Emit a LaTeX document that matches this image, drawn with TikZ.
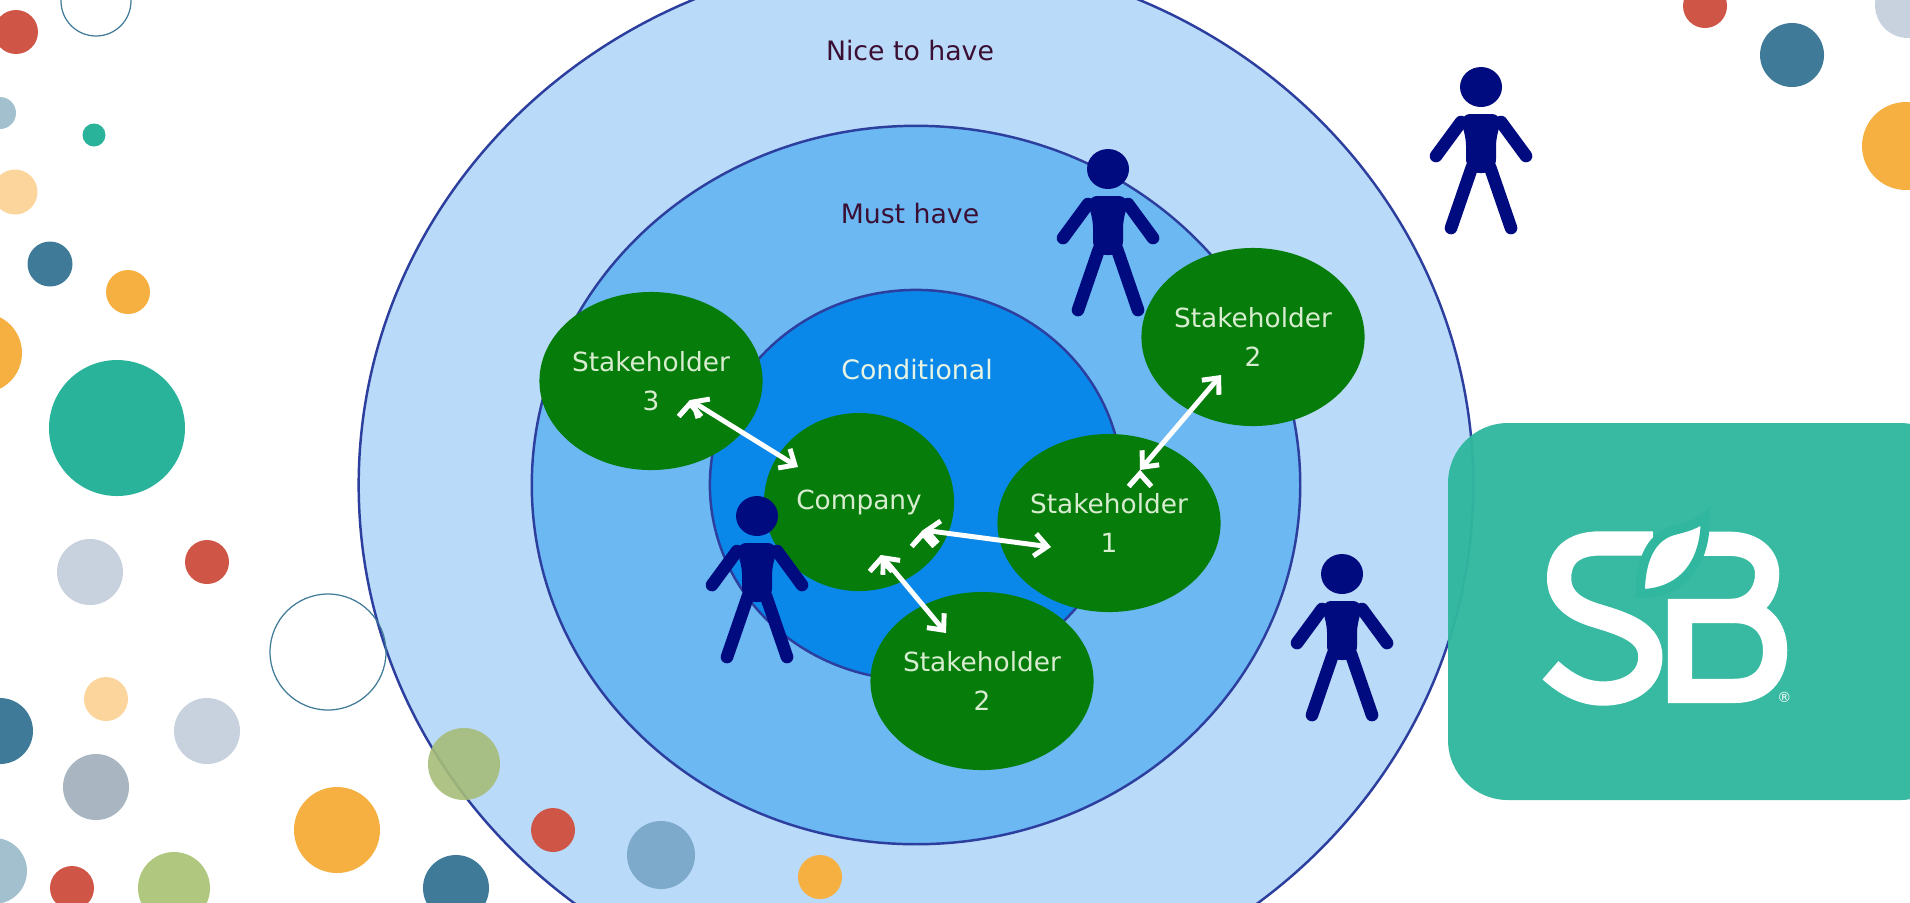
\documentclass[tikz,border=0pt]{standalone}
\usepackage{fontspec}
\setmainfont{DejaVu Sans}
\usetikzlibrary{shapes.geometric,arrows.meta}
\definecolor{spotred}{HTML}{CF5647}
\definecolor{spotblue}{HTML}{3F7A98}
\definecolor{spotpale}{HTML}{A3C0CE}
\definecolor{spotteal}{HTML}{2AB39B}
\definecolor{spotpeach}{HTML}{FCD59C}
\definecolor{spotorange}{HTML}{F5B041}
\definecolor{spotgray}{HTML}{C8D2DE}
\definecolor{spotslate}{HTML}{A9B5C0}
\definecolor{spotgreen}{HTML}{AFC77E}
\definecolor{spotsky}{HTML}{7DAACB}
\definecolor{logoteal}{HTML}{31B79F}
\definecolor{ringline}{HTML}{2C3E9E}
\definecolor{ringouter}{HTML}{B9DAF8}
\definecolor{ringmust}{HTML}{6CB8F2}
\definecolor{ringcond}{HTML}{0A88EA}
\definecolor{holdergreen}{HTML}{067C0B}
\definecolor{holdertext}{HTML}{D8EDD0}
\definecolor{personblue}{HTML}{000B80}
\definecolor{ringtext}{HTML}{3A0F33}
\begin{document}
\begin{tikzpicture}[x=0.01cm,y=-0.01cm,>={Straight Barb[length=3.6pt,width=6.4pt]}]
        \tikzstyle{ring}=[ellipse,draw=ringline,line width=0.7pt,inner sep=0pt]
        \tikzstyle{holder}=[ellipse,fill=holdergreen,text=holdertext,minimum width=1.9cm,minimum height=1.78cm,inner sep=0pt,align=center,font=\fontsize{7.5}{11}\selectfont]
        \tikzstyle{ringlabel}=[font=\fontsize{7.6}{9}\selectfont]
        \tikzstyle{link}=[draw,color=white,line width=1.4pt,<->]
        \tikzstyle{limb}=[draw=personblue,line width=3.6pt,line cap=round]
        \tikzstyle{outline}=[draw=spotblue,line width=0.35pt]
        \tikzset{person/.pic={
          \fill[personblue] (0,0) ellipse (21 and 20);
          \fill[personblue,rounded corners=4pt] (-24,27) -- (24,27) -- (15,45) -- (15,86) -- (-15,86) -- (-15,45) -- cycle;
          \path[limb] (-20,35) -- (-45,69);
          \path[limb] (20,35) -- (45,69);
          \path[limb] (-9,80) -- (-30,141);
          \path[limb] (9,80) -- (30,141);
        }}
        \useasboundingbox (0,0) rectangle (1910,902);
        \clip (0,0) rectangle (1910,902);
        \fill[white] (0,0) rectangle (1910,902);

        % rings
        \node [ring,fill=ringouter,minimum width=11.14cm,minimum height=10.58cm] (outer) at (916,485) {};
        \node [ring,fill=ringmust,minimum width=7.68cm,minimum height=7.18cm] (must) at (916,485) {};
        \node [ring,fill=ringcond,minimum width=4.12cm,minimum height=3.9cm] (cond) at (916,485) {};
        \node [ringlabel,text=ringtext] (nice) at (910,51) {Nice to have};
        \node [ringlabel,text=ringtext] (musttext) at (910,214) {Must have};
        \node [ringlabel,text=holdertext!60!white] (condtext) at (917,370) {Conditional};

        % spots
        \foreach \x/\y/\r/\c in {16/32/22/spotred,0/113/16/spotpale,94/135/11.5/spotteal,15/192/22.5/spotpeach,
          50/264/22.5/spotblue,128/292/22/spotorange,-18/353/40/spotorange,117/428/68/spotteal,90/572/33/spotgray,
          207/562/22/spotred,106/699/22/spotpeach,207/731/33/spotgray,0/731/33/spotblue,96/787/33/spotslate,
          -6/871/33/spotpale,72/888/22/spotred,174/888/36/spotgreen,337/830/43/spotorange,553/830/22/spotred,
          456/888/33/spotblue,661/855/34/spotsky,820/877/22/spotorange,1705/6/22/spotred,1792/55/32/spotblue,
          1908/5/33/spotgray,1906/146/44/spotorange}
          \fill[\c] (\x,\y) circle (\r);
        \fill[spotgreen!95!black,opacity=0.9] (464,764) circle (36);
        \draw[outline] (96,1) circle (35);
        \draw[outline] (328,652) circle (58);

        % stakeholders
        \node [holder] (company) at (859,502) {Company};
        \node [holder] (s1) at (1109,523) {Stakeholder\\1};
        \node [holder] (s2) at (982,681) {Stakeholder\\2};
        \node [holder] (s3) at (651,381) {Stakeholder\\3};
        \node [holder] (s4) at (1253,337) {Stakeholder\\2};

        \coordinate (c3) at (798,467);
        \coordinate (t3) at (690,400);
        \coordinate (c1) at (923,530);
        \coordinate (t1) at (1051,547);
        \coordinate (c2) at (881,555);
        \coordinate (t2) at (946,633);
        \coordinate (u1) at (1140,470);
        \coordinate (t4) at (1221,375);
        \path[link] (t3) edge (c3);
        \path[link] (c1) edge (t1);
        \path[link] (c2) edge (t2);
        \path[link] (u1) edge (t4);

        % people
        \pic at (1108,169) {person};
        \pic at (1481,87) {person};
        \pic at (757,516) {person};
        \pic at (1342,574) {person};

        % logo
        \fill[logoteal,fill opacity=0.97,rounded corners=0.6cm] (1448,423) rectangle (1960,800);
        \begin{scope}[shift={(1420,400)},x=0.00333cm,y=-0.00333cm]
          \draw[white,line width=6.9pt] (700,431) -- (540,431) .. controls (460,431) and (418,470) .. (418,535) .. controls (418,600) and (470,630) .. (530,648) .. controls (620,675) and (692,700) .. (692,772) .. controls (692,840) and (630,882) .. (550,882) .. controls (490,882) and (440,855) .. (392,812);
          \draw[white,line width=6.9pt] (781,634) -- (945,634) .. controls (1025,634) and (1067,685) .. (1067,752) .. controls (1067,825) and (1025,874) .. (945,874) -- (781,874) -- cycle;
          \draw[white,line width=6.9pt] (840,432) -- (930,432) .. controls (1000,432) and (1043,470) .. (1043,522) .. controls (1043,585) and (1000,634) .. (930,634);
          \draw[logoteal,fill=white,line width=2.6pt] (857,350) .. controls (830,375) and (800,382) .. (770,390) .. controls (700,405) and (662,470) .. (662,582) .. controls (780,580) and (860,500) .. (857,350) -- cycle;
          \node [text=white,inner sep=0pt,font=\fontsize{4}{4}\selectfont] (mark) at (1095,893) {®};
        \end{scope}
      \end{tikzpicture}
\end{document}
